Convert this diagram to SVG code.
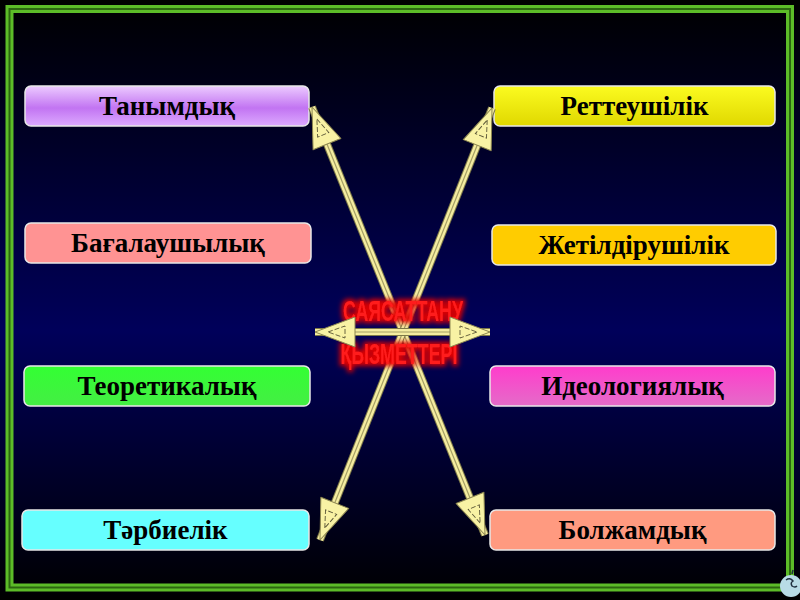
<svg xmlns="http://www.w3.org/2000/svg" width="800" height="600" viewBox="0 0 800 600">
<defs>
<linearGradient id="bg" x1="0" y1="0" x2="0" y2="1">
<stop offset="0" stop-color="#000000"/>
<stop offset="0.55" stop-color="#00005a"/>
<stop offset="1" stop-color="#000000"/>
</linearGradient>
<linearGradient id="gPurple" x1="0" y1="0" x2="0" y2="1">
<stop offset="0" stop-color="#eccaff"/><stop offset="0.55" stop-color="#c274f2"/><stop offset="1" stop-color="#dcaaff"/>
</linearGradient>
<linearGradient id="gYellow" x1="0" y1="0" x2="0" y2="1">
<stop offset="0" stop-color="#fbfb20"/><stop offset="1" stop-color="#e0d800"/>
</linearGradient>
<linearGradient id="gGreen" x1="0" y1="0" x2="0" y2="1">
<stop offset="0" stop-color="#33ff33"/><stop offset="1" stop-color="#44ee44"/>
</linearGradient>
<linearGradient id="gMagenta" x1="0" y1="0" x2="0" y2="1">
<stop offset="0" stop-color="#ff3ccc"/><stop offset="1" stop-color="#e46cc8"/>
</linearGradient>
<filter id="glow" x="-20%" y="-40%" width="140%" height="180%">
<feMorphology in="SourceAlpha" operator="dilate" radius="2" result="d"/>
<feGaussianBlur in="d" stdDeviation="2.5" result="b"/>
<feFlood flood-color="#e00000" flood-opacity="1"/>
<feComposite in2="b" operator="in" result="g"/>
<feMerge><feMergeNode in="g"/><feMergeNode in="SourceGraphic"/></feMerge>
</filter>
<g id="head">
<path d="M0,0 L15,40 L-15,40 Z" fill="#f8f2a4" stroke="#8c8650" stroke-width="1" stroke-linejoin="round"/>
<path d="M0,13 L6,30 L-6,30 Z" fill="none" stroke="#5a5636" stroke-width="0.9" stroke-dasharray="5,2"/>
</g>
<style>
.box{stroke:#e8e8e8;stroke-width:1.5}
.lbl{font-family:"Liberation Serif","Times New Roman",serif;font-weight:bold;font-size:27px;fill:#000;text-anchor:middle}
.s1{stroke:#7d7848;stroke-width:8;stroke-linecap:butt}
.s2{stroke:#f4eca0;stroke-width:6}
.s3{stroke:#a49e64;stroke-width:1.2}
.ttl{font-family:"Liberation Sans",Arial,sans-serif;font-weight:bold;font-size:29px;fill:#ff1a1a;text-anchor:middle}
</style>
</defs>
<rect x="0" y="0" width="800" height="600" fill="url(#bg)"/>
<g id="frame">
<rect x="9.5" y="9" width="780.5" height="578.5" fill="none" stroke="#5cbc28" stroke-width="8"/>
<rect x="9.5" y="9" width="780.5" height="578.5" fill="none" stroke="#2c6610" stroke-width="2"/>
</g>
<g id="n1"><rect class="box" x="25" y="86" width="284" height="40" rx="6" fill="url(#gPurple)"/><text class="lbl" x="167" y="115">Танымдық</text></g>
<g id="n2"><rect class="box" x="494" y="86" width="281" height="40" rx="6" fill="url(#gYellow)"/><text class="lbl" x="634.5" y="115">Реттеушілік</text></g>
<g id="n3"><rect class="box" x="25" y="223" width="286" height="40" rx="6" fill="#ff9393"/><text class="lbl" x="168" y="252">Бағалаушылық</text></g>
<g id="n4"><rect class="box" x="492" y="225" width="284" height="40" rx="6" fill="#ffcc00"/><text class="lbl" x="634" y="254">Жетілдірушілік</text></g>
<g id="n5"><rect class="box" x="24" y="366" width="286" height="40" rx="6" fill="url(#gGreen)"/><text class="lbl" x="167" y="395">Теоретикалық</text></g>
<g id="n6"><rect class="box" x="490" y="366" width="285" height="40" rx="6" fill="url(#gMagenta)"/><text class="lbl" x="632.5" y="395">Идеологиялық</text></g>
<g id="n7"><rect class="box" x="22" y="510" width="287" height="40" rx="6" fill="#66ffff"/><text class="lbl" x="165.5" y="539">Тәрбиелік</text></g>
<g id="n8"><rect class="box" x="490" y="510" width="285" height="40" rx="6" fill="#ff9a80"/><text class="lbl" x="632.5" y="539">Болжамдық</text></g>
<g id="connectors">
<g id="x-lines">
<line class="s1" x1="312" y1="107" x2="485" y2="535"/>
<line class="s2" x1="312" y1="107" x2="485" y2="535"/>
<line class="s3" x1="312" y1="107" x2="485" y2="535"/>
<line class="s1" x1="492" y1="108" x2="320" y2="540"/>
<line class="s2" x1="492" y1="108" x2="320" y2="540"/>
<line class="s3" x1="492" y1="108" x2="320" y2="540"/>
<use href="#head" transform="translate(312,107) rotate(-22)"/>
<use href="#head" transform="translate(485,535) rotate(158)"/>
<use href="#head" transform="translate(492,108) rotate(21.7)"/>
<use href="#head" transform="translate(320,540) rotate(201.7)"/>
</g>
</g>
<g id="title" filter="url(#glow)">
<text class="ttl" x="403" y="321" textLength="120" lengthAdjust="spacingAndGlyphs">САЯСАТТАНУ</text>
<text class="ttl" x="399" y="364" textLength="117" lengthAdjust="spacingAndGlyphs">ҚЫЗМЕТТЕРІ</text>
</g>
<g id="connectors-h">
<line class="s1" x1="315" y1="332" x2="490" y2="332"/>
<line class="s2" x1="315" y1="332" x2="490" y2="332"/>
<line class="s3" x1="315" y1="332" x2="490" y2="332"/>
<use href="#head" transform="translate(315,332) rotate(-90)"/>
<use href="#head" transform="translate(490,332) rotate(90)"/>
</g>
<g id="corner-icon">
<circle cx="791" cy="586" r="11" fill="#b8dce6"/>
<path d="M786,580 q4,-3 7,1 q-3,2 -1,5 q3,2 5,0" fill="none" stroke="#203040" stroke-width="1.5"/>
<path d="M792,574 l1,-4" stroke="#203040" stroke-width="1.5"/>
</g>
</svg>
